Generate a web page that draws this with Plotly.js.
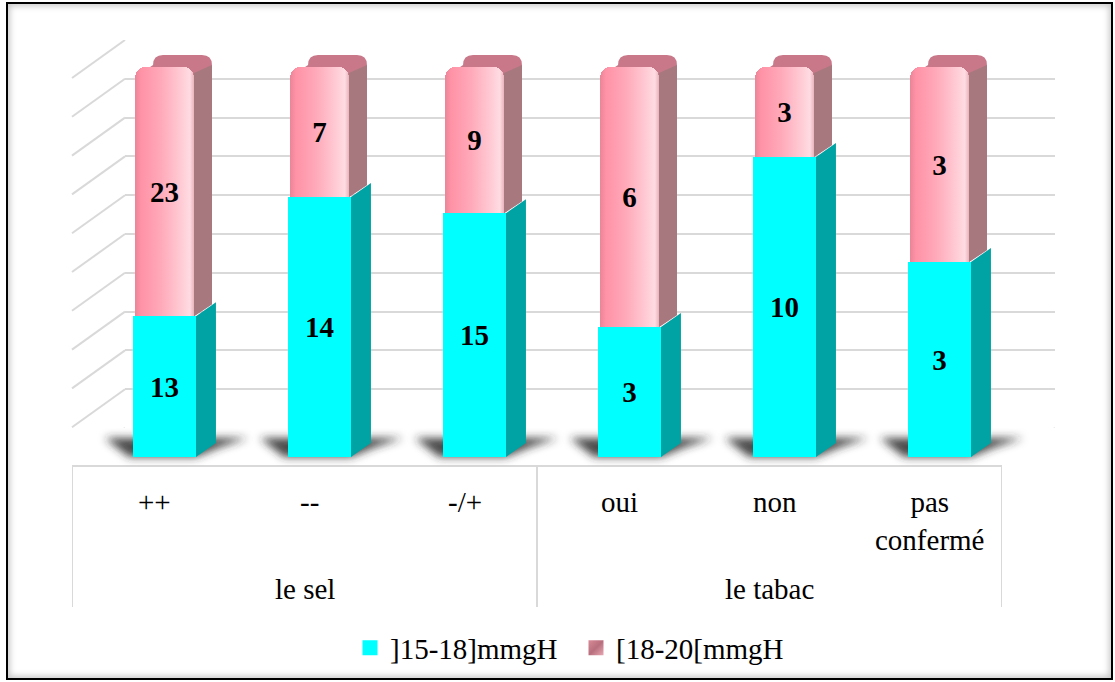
<!DOCTYPE html>
<html>
<head>
<meta charset="utf-8">
<script src="https://cdn.plot.ly/plotly-3.0.1.min.js"></script>
<style>
  html, body { margin: 0; padding: 0; background: #fff; }
  #wrap { position: relative; width: 1115px; height: 682px; overflow: hidden; }
  #chart { position: absolute; left: 0; top: 0; width: 1115px; height: 682px; }
  #frame {
    position: absolute; left: 6px; top: 2px; width: 1103px; height: 674px;
    border: 2px solid #000;
    box-shadow: inset 0 0 6px 2px rgba(0, 0, 0, 0.22);
    pointer-events: none;
  }
</style>
</head>
<body>
<div id="wrap">
  <div id="chart"></div>
  <div id="frame"></div>
</div>
<script>
// ---- data -------------------------------------------------------------
const categories = ['++', '--', '-/+', 'oui', 'non', 'pas<br>confermé'];
const groups     = ['le sel', 'le sel', 'le sel', 'le tabac', 'le tabac', 'le tabac'];
const seriesNames = [']15-18]mmgH', '[18-20[mmgH'];
const lowBand  = [13, 14, 15, 3, 10, 3];   // ]15-18]mmgH
const highBand = [23, 7, 9, 6, 3, 3];      // [18-20[mmgH
const gridStep = 10;                        // percent axis, 0..100

// ---- scene geometry (page pixels) --------------------------------------
const W = 1115, H = 682;
const FONT = 'Liberation Serif';
const wall = { left: 125, right: 1055, top: 40, bottom: 428 };   // back wall
const depth = { dx: 53, dy: 38 };                                  // wall -> front edge
const barPlane = { left: 87, right: 1017, base: 457, top: 67 };   // front faces of the columns
const tableBottom = 607;
const n = categories.length;
const idx = categories.map((_, i) => i);

const ux = (barPlane.right - barPlane.left) / n;   // px per category
const uy = (barPlane.base - barPlane.top) / 100;   // px per percent
const padX = 0.25, padY = 9;                       // room for the depth faces

const fx = px => px / W;
const fy = py => 1 - py / H;

const lowWidth = 0.406, highWidth = 0.38;
const sideLow  = { dx: 20 / ux, dy: 14 / uy };
const sideHigh = { dx: 18 / ux, dy: 12 / uy };
const round = { rx: 10 / ux, ry: 10 / uy };

const COLORS = {
  low: '#00FFFF', lowSide: '#00A3A3',
  high: '#FFB0BE', highSide: '#A8787F', highTop: '#C9788A',
  grid: '#D9D9D9', shadow: 'rgba(40,40,40,0.85)'
};

const labelFont = { family: FONT, size: 29, color: '#000' };

// ---- traces -----------------------------------------------------------
const traces = [
  {
    type: 'bar', name: seriesNames[0], x: idx, y: lowBand,
    xaxis: 'x2', yaxis: 'y2', width: lowWidth,
    marker: { color: COLORS.low, line: { width: 0 } },
    text: lowBand.map(String), textposition: 'inside', insidetextanchor: 'middle',
    textangle: 0, constraintext: 'none',
    textfont: { family: FONT, size: 29, color: '#000', weight: 'bold' },
    hoverinfo: 'skip'
  },
  {
    type: 'bar', name: seriesNames[1], x: idx, y: highBand,
    xaxis: 'x2', yaxis: 'y2', width: highWidth,
    marker: { color: COLORS.high, line: { width: 0 } },
    text: highBand.map(String), textposition: 'inside', insidetextanchor: 'middle',
    textangle: 0, constraintext: 'none',
    textfont: { family: FONT, size: 29, color: '#000', weight: 'bold' },
    hoverinfo: 'skip'
  }
];

// ---- depth faces, floor shadows and wall lines -----------------------
const pathOf = pts => 'M' + pts.map(p => p[0] + ',' + p[1]).join(' L') + ' Z';
const shapes = [];
const shadowIdx = new Set();

// left wall and floor lines, tied to the percent scale of the back wall
for (let v = 0; v <= 100; v += gridStep) {
  shapes.push({
    type: 'line', layer: 'below',
    xref: 'paper', xsizemode: 'pixel', xanchor: fx(wall.left), x0: 0, x1: -depth.dx,
    yref: 'y', ysizemode: 'pixel', yanchor: v, y0: 0, y1: -depth.dy,
    line: { color: COLORS.grid, width: 2 }
  });
}
shapes.push({
  type: 'line', layer: 'below',
  xref: 'paper', xsizemode: 'pixel', xanchor: fx(wall.right), x0: 0, x1: -depth.dx,
  yref: 'y', ysizemode: 'pixel', yanchor: 0, y0: 0, y1: -depth.dy,
  line: { color: COLORS.grid, width: 2 }
});

// category table under the floor
shapes.push({
  type: 'line', layer: 'below', xref: 'x3', yref: 'paper',
  x0: -0.5, x1: n - 0.5, y0: fy(wall.bottom + depth.dy), y1: fy(wall.bottom + depth.dy),
  line: { color: COLORS.grid, width: 2 }
});
const dividers = [-0.5];
for (let i = 1; i < n; i++) if (groups[i] !== groups[i - 1]) dividers.push(i - 0.5);
dividers.push(n - 0.5);
dividers.forEach(d => shapes.push({
  type: 'line', layer: 'below', xref: 'x3', yref: 'paper',
  x0: d, x1: d, y0: fy(wall.bottom + depth.dy), y1: fy(tableBottom),
  line: { color: COLORS.grid, width: 2 }
}));

// soft shadows on the floor behind each column
idx.forEach(i => {
  const xl = i - lowWidth / 2, xr = i + lowWidth / 2;
  shadowIdx.add(shapes.length);
  shapes.push({
    type: 'path', layer: 'below', xref: 'x2', yref: 'y2',
    path: pathOf([
      [xl - 4 / ux, 0], [xl - 28 / ux, 19 / uy],
      [xr + sideLow.dx + 32 / ux, 19 / uy], [xr + sideLow.dx + 4 / ux, 10 / uy], [xr, 0]
    ]),
    fillcolor: COLORS.shadow, line: { width: 0 }
  });
});

// column depth: cap and side of the upper band, side of the lower band
idx.forEach(i => {
  const total = lowBand[i] + highBand[i];
  const split = lowBand[i] / total * 100;
  const pl = i - highWidth / 2, pr = i + highWidth / 2;
  const cr = i + lowWidth / 2;
  const sx = sideHigh.dx, sy = sideHigh.dy, rx = round.rx, ry = round.ry;

  shapes.push({
    type: 'path', layer: 'below', xref: 'x2', yref: 'y2',
    path: 'M' + pl + ',' + (100 - ry) +
          ' L' + (pl + sx) + ',' + (100 + sy - ry) +
          ' Q' + (pl + sx) + ',' + (100 + sy) + ' ' + (pl + sx + rx) + ',' + (100 + sy) +
          ' L' + (pr + sx - rx) + ',' + (100 + sy) +
          ' Q' + (pr + sx) + ',' + (100 + sy) + ' ' + (pr + sx) + ',' + (100 + sy - ry) +
          ' L' + (pr + sx) + ',' + (split + sy) +
          ' L' + pr + ',' + split + ' Z',
    fillcolor: COLORS.highTop, line: { width: 0 }
  });
  shapes.push({
    type: 'path', layer: 'below', xref: 'x2', yref: 'y2',
    path: pathOf([[pr, split], [pr + sx, split + sy], [pr + sx, 100 + sy - ry], [pr, 100 - ry * 0.6]]),
    fillcolor: COLORS.highSide, line: { width: 0 }
  });
  shapes.push({
    type: 'path', layer: 'below', xref: 'x2', yref: 'y2',
    path: pathOf([[cr, 0], [cr + sideLow.dx, sideLow.dy], [cr + sideLow.dx, split + sideLow.dy], [cr, split]]),
    fillcolor: COLORS.lowSide, line: { width: 0 }
  });
});

// ---- category labels (in the table cells) -----------------------------
const annotations = [];
idx.forEach(i => annotations.push({
  xref: 'x3', x: i, xshift: 5, yref: 'paper', y: fy(484), yanchor: 'top',
  text: categories[i], showarrow: false, font: Object.assign({}, labelFont)
}));
const groupNames = [...new Set(groups)];
groupNames.forEach(g => {
  const members = idx.filter(i => groups[i] === g);
  const centre = members.reduce((a, b) => a + b, 0) / members.length;
  annotations.push({
    xref: 'x3', x: centre, yref: 'paper', y: fy(571), yanchor: 'top',
    text: g, showarrow: false, font: Object.assign({}, labelFont)
  });
});

// ---- layout -----------------------------------------------------------
const hidden = { visible: false, fixedrange: true };
const layout = {
  width: W, height: H,
  margin: { l: 0, r: 0, t: 0, b: 0, pad: 0 },
  paper_bgcolor: '#FFFFFF', plot_bgcolor: 'rgba(0,0,0,0)',
  font: { family: FONT, color: '#000' },
  barmode: 'stack', barnorm: 'percent', barcornerradius: 10,
  showlegend: true,
  legend: {
    orientation: 'h', traceorder: 'normal',
    x: fx(350), xanchor: 'left', y: fy(648), yanchor: 'middle',
    entrywidth: 181, entrywidthmode: 'pixels',
    font: { family: FONT, size: 29, color: '#000' },
    bgcolor: 'rgba(0,0,0,0)', borderwidth: 0
  },
  // back wall grid
  xaxis: Object.assign({}, hidden, { domain: [fx(wall.left), fx(wall.right)], range: [0, 1], anchor: 'y' }),
  yaxis: {
    domain: [fy(wall.bottom), fy(wall.top)], range: [0, 100], anchor: 'x',
    dtick: gridStep, showgrid: true, gridcolor: COLORS.grid, gridwidth: 2,
    showticklabels: false, ticks: '', showline: false, zeroline: false, fixedrange: true
  },
  // column plane
  xaxis2: Object.assign({}, hidden, {
    domain: [fx(barPlane.left - padX * ux), fx(barPlane.right + padX * ux)],
    range: [-0.5 - padX, n - 0.5 + padX], anchor: 'y2'
  }),
  yaxis2: Object.assign({}, hidden, {
    domain: [fy(barPlane.base + padY * uy), fy(barPlane.top - padY * uy)],
    range: [-padY, 100 + padY], anchor: 'x2'
  }),
  // category table
  xaxis3: Object.assign({}, hidden, {
    domain: [fx(wall.left - depth.dx), fx(wall.right - depth.dx)],
    range: [-0.5, n - 0.5], anchor: 'y3'
  }),
  yaxis3: Object.assign({}, hidden, {
    domain: [fy(tableBottom), fy(wall.bottom + depth.dy)], range: [0, 1], anchor: 'x3'
  }),
  shapes: shapes,
  annotations: annotations
};

const gd = document.getElementById('chart');
Plotly.newPlot(gd, traces, layout, { staticPlot: true, displayModeBar: false }).then(() => {
  const NS = 'http://www.w3.org/2000/svg';
  const defs = gd.querySelector('svg.main-svg defs');

  // shaded face for the upper band
  const grad = document.createElementNS(NS, 'linearGradient');
  grad.setAttribute('id', 'pinkFace');
  grad.setAttribute('x1', '0'); grad.setAttribute('y1', '0');
  grad.setAttribute('x2', '1'); grad.setAttribute('y2', '0');
  [['0', '#EA8598'], ['0.1', '#FF92A6'], ['0.45', '#FFAABA'],
   ['0.8', '#FFCDD6'], ['0.93', '#FFDCE2'], ['1', '#E9B4BD']].forEach(([o, c]) => {
    const s = document.createElementNS(NS, 'stop');
    s.setAttribute('offset', o); s.setAttribute('stop-color', c);
    grad.appendChild(s);
  });
  defs.appendChild(grad);

  // legend chip for the upper band
  const chip = document.createElementNS(NS, 'linearGradient');
  chip.setAttribute('id', 'pinkChip');
  chip.setAttribute('x1', '0'); chip.setAttribute('y1', '0');
  chip.setAttribute('x2', '1'); chip.setAttribute('y2', '1');
  [['0', '#D98A98'], ['0.5', '#B86F7D'], ['1', '#E8A8B3']].forEach(([o, c]) => {
    const s = document.createElementNS(NS, 'stop');
    s.setAttribute('offset', o); s.setAttribute('stop-color', c);
    chip.appendChild(s);
  });
  defs.appendChild(chip);

  // blur for the floor shadows
  const filt = document.createElementNS(NS, 'filter');
  filt.setAttribute('id', 'softShadow');
  filt.setAttribute('x', '-50%'); filt.setAttribute('y', '-150%');
  filt.setAttribute('width', '200%'); filt.setAttribute('height', '400%');
  const blur = document.createElementNS(NS, 'feGaussianBlur');
  blur.setAttribute('stdDeviation', '4');
  filt.appendChild(blur);
  defs.appendChild(filt);

  const barTraces = gd.querySelectorAll('.barlayer .trace');
  if (barTraces[1]) barTraces[1].querySelectorAll('path').forEach(p => { p.style.fill = 'url(#pinkFace)'; });

  // slightly larger legend swatches
  const legendItems = gd.querySelectorAll('.legend .traces');
  legendItems.forEach((item, k) => {
    item.querySelectorAll('.legendpoints path').forEach(p => {
      p.setAttribute('d', 'M7.5,7.5H-7.5V-7.5H7.5Z');
      if (k === 1) p.style.fill = 'url(#pinkChip)';
    });
  });

  gd.querySelectorAll('.shapelayer path').forEach(p => {
    if (shadowIdx.has(+p.getAttribute('data-index'))) p.setAttribute('filter', 'url(#softShadow)');
  });
});
</script>
</body>
</html>
